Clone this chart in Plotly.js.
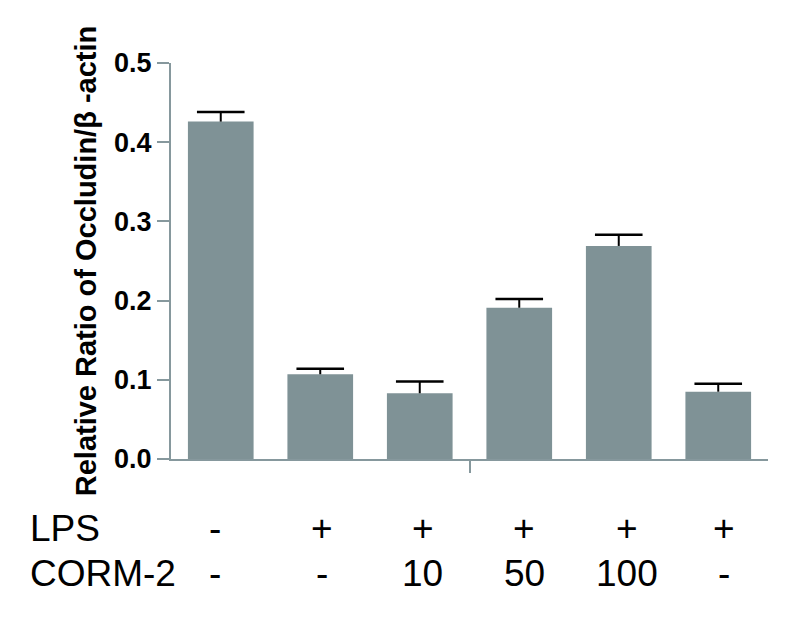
<!DOCTYPE html>
<html>
<head>
<meta charset="utf-8">
<script src="https://cdn.plot.ly/plotly-3.0.1.min.js"></script>
<style>html,body{margin:0;padding:0;background:#fff;}#chart{width:787px;height:622px;}</style>
</head>
<body>
<div id="chart"></div>
<script>
// Data
const groups = [0, 1, 2, 3, 4, 5];
const ratio = [0.426, 0.107, 0.083, 0.191, 0.269, 0.085];
const errUp = [0.012, 0.007, 0.015, 0.011, 0.014, 0.010];
const lpsLabels = ['-', '+', '+', '+', '+', '+'];
const cormLabels = ['-', '-', '10', '50', '100', '-'];
const rowNames = ['LPS', 'CORM-2'];
const yTicks = [0.0, 0.1, 0.2, 0.3, 0.4, 0.5];
const yTitle = 'Relative Ratio of Occludin/β -actin';

// label column positions (data units) for treatment rows
const labelCols = [-0.06, 1.02, 2.03, 3.05, 4.08, 5.06];

const barColor = '#7f9296';
const axisColor = '#86989d';
const font = 'Liberation Sans, Arial, sans-serif';

const capY = ratio.map((v, i) => v + errUp[i]);

const traces = [
  {
    type: 'bar',
    x: groups,
    y: ratio,
    width: 0.66,
    marker: {color: barColor, line: {width: 0}},
    error_y: {type: 'data', symmetric: false, array: errUp, arrayminus: groups.map(() => 0),
              color: '#000', thickness: 2, width: 0},
    hoverinfo: 'none'
  },
  {
    type: 'scatter',
    mode: 'markers',
    x: groups,
    y: capY,
    marker: {symbol: 'line-ew', size: 34, color: '#000', line: {color: '#000', width: 2.5}},
    hoverinfo: 'none'
  }
];

const annotations = [];
const rowY = [-0.176, -0.288];
rowNames.forEach((name, r) => {
  annotations.push({xref: 'paper', yref: 'paper', x: -0.239, y: rowY[r], xanchor: 'left', yanchor: 'middle',
    text: name, showarrow: false, font: {family: font, size: 37, color: '#000'}});
});
[lpsLabels, cormLabels].forEach((row, r) => {
  row.forEach((t, i) => {
    annotations.push({xref: 'x', yref: 'paper', x: labelCols[i], y: rowY[r], xanchor: 'center', yanchor: 'middle',
      text: t, showarrow: false, font: {family: font, size: 37, color: '#000'}});
  });
});

const layout = {
  width: 787, height: 622,
  margin: {l: 171, r: 19, t: 63, b: 163, pad: 0},
  paper_bgcolor: '#fff', plot_bgcolor: '#fff',
  showlegend: false,
  xaxis: {
    range: [-0.5, 5.5], showgrid: false, zeroline: false,
    showline: true, linecolor: axisColor, linewidth: 2,
    tickmode: 'array', tickvals: [2.5], ticks: 'outside', ticklen: 12, tickwidth: 2, tickcolor: axisColor,
    showticklabels: false, fixedrange: true
  },
  yaxis: {
    range: [0, 0.5], showgrid: false, zeroline: false,
    showline: true, linecolor: axisColor, linewidth: 2,
    tickmode: 'array', tickvals: yTicks, ticktext: yTicks.map(v => v.toFixed(1)),
    ticks: 'outside', ticklen: 12, tickwidth: 2, tickcolor: axisColor,
    tickfont: {family: font, size: 27, color: '#000', weight: 'bold'},
    title: {text: yTitle, standoff: 9, font: {family: font, size: 29, color: '#000', weight: 'bold'}},
    automargin: false, fixedrange: true
  },
  annotations: annotations
};

Plotly.newPlot('chart', traces, layout, {displayModeBar: false, staticPlot: true});
</script>
</body>
</html>
